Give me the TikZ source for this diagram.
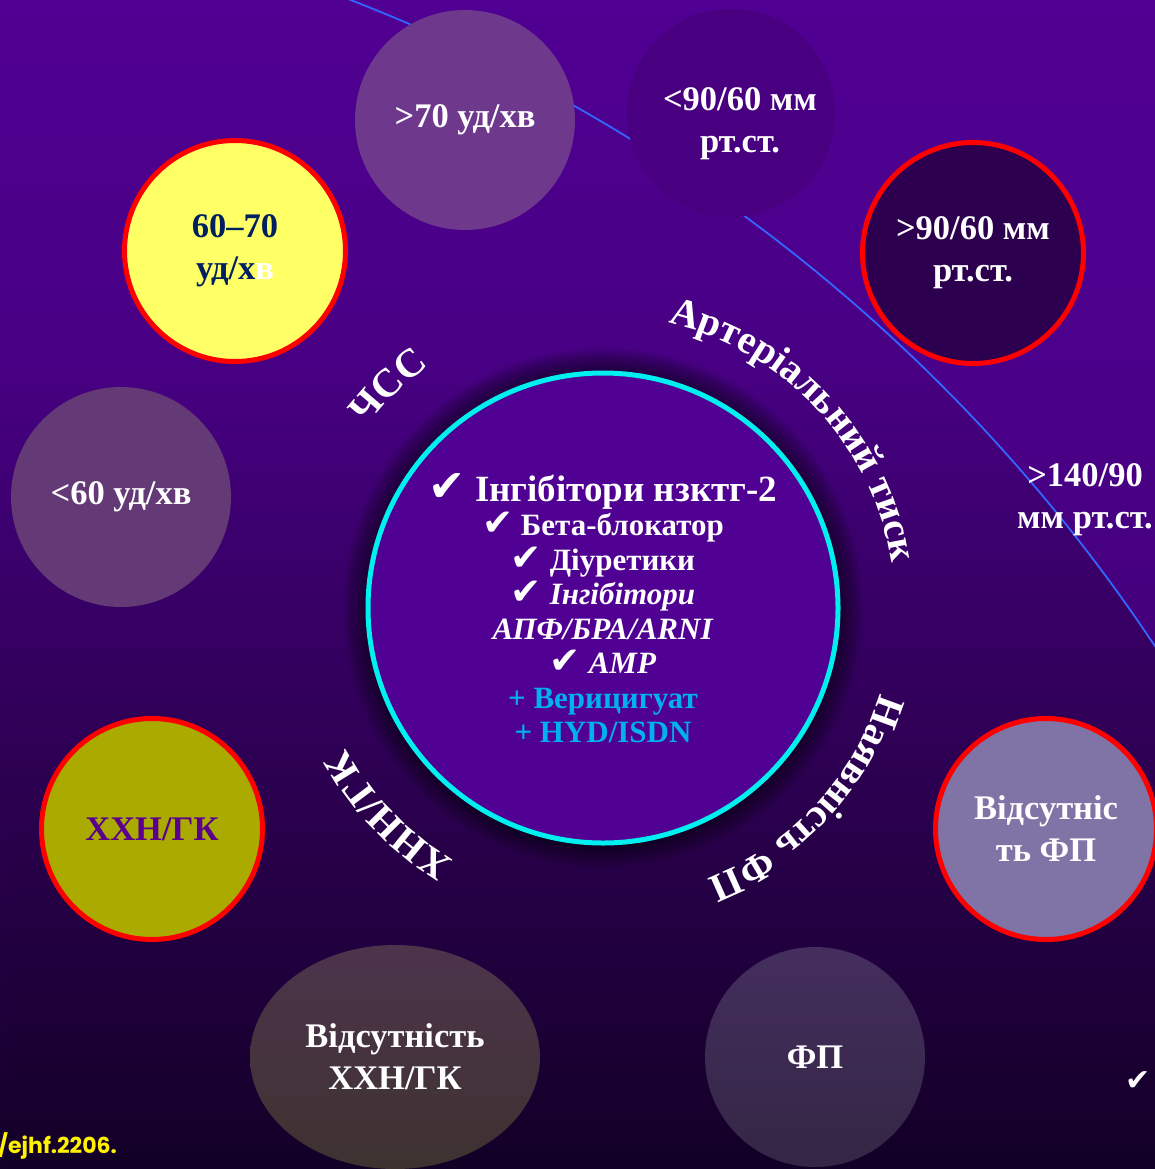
\documentclass[tikz,border=0pt]{standalone}
\usepackage{fontspec}
\setmainfont{Liberation Serif}
\newfontfamily\symfont{DejaVu Sans}
\newfontfamily\notefont{Poppins}
\usetikzlibrary{shapes.geometric,decorations.text}

% slide palette
\definecolor{bgtop}{RGB}{80,0,146}
\definecolor{bgup}{RGB}{72,0,132}
\definecolor{bgmid}{RGB}{46,0,84}
\definecolor{bgbot}{RGB}{18,0,38}
\definecolor{corefill}{RGB}{80,0,146}
\definecolor{ringcyan}{RGB}{0,240,240}
\definecolor{arcblue}{RGB}{51,102,255}
\definecolor{drugblue}{RGB}{0,176,240}
\definecolor{navytext}{RGB}{0,32,96}
\definecolor{olivefill}{RGB}{170,170,0}
\definecolor{olivetext}{RGB}{90,0,140}
\definecolor{hrhighfill}{RGB}{110,56,140}
\definecolor{bplowfill}{RGB}{72,0,128}
\definecolor{hrmidfill}{RGB}{255,255,102}
\definecolor{bphighfill}{RGB}{44,0,78}
\definecolor{hrlowfill}{RGB}{100,58,118}
\definecolor{noaffill}{RGB}{128,115,165}
\definecolor{aftop}{RGB}{68,46,94}
\definecolor{afbot}{RGB}{52,38,68}
\definecolor{nockdtop}{RGB}{76,52,76}
\definecolor{nockdbot}{RGB}{62,50,48}

\newcommand\chk{{\symfont\scalebox{1.2}{✔}}}
\newcommand\curvefont{\bfseries\fontsize{40}{40}\selectfont}

\tikzset{
  disc/.style={circle, inner sep=0pt, outer sep=0pt, align=center, text=white,
    font=\bfseries\fontsize{34.5}{42}\selectfont},
  ringdisc/.style={disc, draw=red, line width=5pt, minimum size=221pt},
  core/.style={circle, inner sep=0pt, outer sep=0pt, minimum size=470pt,
    draw=ringcyan, line width=5pt, fill=corefill, align=center, text=white,
    font=\bfseries\fontsize{31}{34.5}\selectfont},
  arclabel/.style={decorate, decoration={text along path, text align=center,
    text color=white, text={|\curvefont|#1}}},
  plain/.style={inner sep=0pt, outer sep=0pt, align=center, text=white,
    font=\bfseries\fontsize{34.5}{42}\selectfont},
}

\begin{document}
\begin{tikzpicture}[x=1pt, y=1pt]
\useasboundingbox (0,0) rectangle (1155,-1169);
\clip (0,0) rectangle (1155,-1169);

% background: vertical fade from violet to near black
\shade[top color=bgtop, bottom color=bgup] (0,1) rectangle (1155,-351);
\shade[top color=bgup, bottom color=bgmid] (0,-350) rectangle (1155,-751);
\shade[top color=bgmid, bottom color=bgbot] (0,-750) rectangle (1155,-1170);

% lighter wedge beyond the large arc
\fill[bgtop, opacity=0.55, even odd rule]
  (0,0) rectangle (1155,-1169) (-265,-1590) circle[radius=1705];
\draw[arcblue, line width=1.8pt] (-265,-1590) ++(71:1705) arc[start angle=71, end angle=32, radius=1705];

% soft halo around the therapy circle
\foreach \k in {1,...,12}
  \fill[black, opacity=0.05] (603,-608) circle[radius=236+2*\k];

% therapy circle
\node[core] (core) at (603,-608) {%
  {\fontsize{37}{37}\selectfont\chk\ Інгібітори нзктг-2}\\
  \chk\ Бета-блокатор\\
  \chk\ Діуретики\\
  \chk\ \textit{Інгібітори}\\
  \textit{АПФ/БРА/ARNI}\\
  \chk\ \textit{АМР}\\
  \textcolor{drugblue}{+ Верицигуат}\\
  \textcolor{drugblue}{+ HYD/ISDN}};

% curved criteria labels around the therapy circle
\path[arclabel={ЧСС}] (603,-608) ++(152:298) arc[start angle=152, end angle=116, radius=298];
\path[arclabel={Артеріальний тиск}] (603,-608) ++(89:292) arc[start angle=89, end angle=-3, radius=292];
\path[arclabel={Наявність ФП}] (603,-608) ++(2:290) arc[start angle=2, end angle=-88, radius=290];
\path[arclabel={ХНН/ГК}] (603,-608) ++(253:293) arc[start angle=253, end angle=195, radius=293];

% heart rate
\node[disc, fill=hrhighfill, minimum size=220pt] (hrhigh) at (465,-120) {>70 уд/хв};
\node[ringdisc, fill=hrmidfill, text=navytext] (hrmid) at (235,-251) {60–70\\уд/х\textcolor{white}{в}};
\node[disc, fill=hrlowfill, minimum size=220pt] (hrlow) at (121,-497) {<60 уд/хв};

% blood pressure
\node[disc, fill=bplowfill, minimum size=208pt] (bplow) at (731,-113) {};
\node[plain] (bplowtxt) at (740,-124) {<90/60 мм\\рт.ст.};
\node[ringdisc, fill=bphighfill] (bphigh) at (973,-253) {>90/60 мм\\рт.ст.};
\node[plain] (bpvhigh) at (1085,-500) {>140/90\\мм рт.ст.};

% kidney / liver disease
\node[ringdisc, fill=olivefill, text=olivetext] (ckd) at (152,-829) {ХХН/ГК};
\node[ellipse, inner sep=0pt, outer sep=0pt, minimum width=290pt, minimum height=224pt,
  top color=nockdtop, bottom color=nockdbot, align=center, text=white,
  font=\bfseries\fontsize{34.5}{42}\selectfont] (nockd) at (395,-1057) {Відсутність\\ХХН/ГК};

% atrial fibrillation
\node[disc, top color=aftop, bottom color=afbot, minimum size=220pt] (af) at (815,-1057) {ФП};
\node[ringdisc, fill=noaffill] (noaf) at (1046,-829) {Відсутніс\\ть ФП};

% footer
\node[anchor=base west, inner sep=0pt, text=yellow,
  font=\notefont\bfseries\fontsize{22}{22}\selectfont] (doi) at (-2,-1153) {/ejhf.2206.};
\node[inner sep=0pt, text=white, font=\symfont\fontsize{30}{30}\selectfont] (tick) at (1138,-1081) {✔};
\end{tikzpicture}
\end{document}
